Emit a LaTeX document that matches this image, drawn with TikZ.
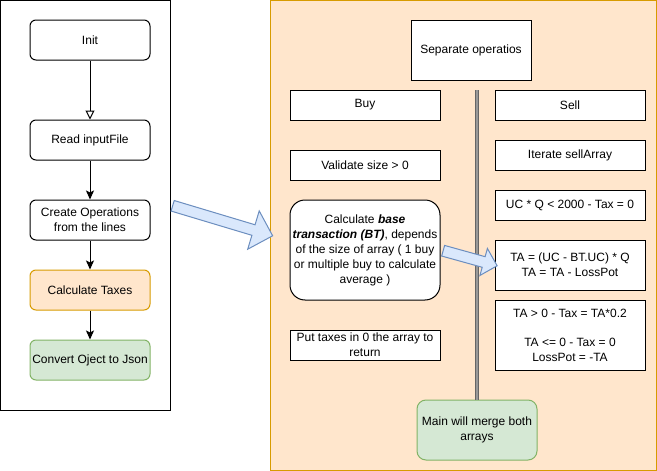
\documentclass[tikz,border=0pt]{standalone}
\usepackage{fontspec}
\setmainfont{Liberation Sans}
\usetikzlibrary{arrows.meta,shapes.arrows,calc}

\definecolor{orangefill}{HTML}{FFE6CC}
\definecolor{orangeline}{HTML}{D79B00}
\definecolor{greenfill}{HTML}{D5E8D4}
\definecolor{greenline}{HTML}{82B366}
\definecolor{bluefill}{HTML}{DAE8FC}
\definecolor{blueline}{HTML}{6C8EBF}

\tikzset{
  every node/.style={font=\fontsize{12}{15}\selectfont, align=center, inner sep=2pt},
  flowbox/.style={draw, fill=white, rounded corners=6pt, line width=1pt, minimum width=120pt, minimum height=40pt},
  opbox/.style={draw, fill=white, rectangle, line width=1pt, minimum width=150pt, minimum height=30pt},
  fatarrow/.style={single arrow, draw=blueline, fill=bluefill, line width=1pt, inner sep=5pt, outer sep=0pt, single arrow head indent=0pt},
  flow/.style={line width=1pt, -{Stealth[length=9pt, width=8pt, inset=2pt]}}
}

% block arrow from #1 to #2, head extend #3
\newcommand{\blockarrow}[3]{%
  \path let \p1=($(#2)-(#1)$), \n1={atan2(\y1,\x1)}, \n2={veclen(\x1,\y1)} in
    node[fatarrow, single arrow head extend=#3, minimum height=\n2, rotate=\n1] at ($(#1)!0.5!(#2)$) {};}

\begin{document}
\begin{tikzpicture}[x=1pt, y=-1pt]

            \useasboundingbox (0,0) rectangle (657,471);

            % main flow
            \draw[line width=1pt] (0.5,0.5) rectangle (170,410);

            \node[flowbox] (init) at (90,40) {Init};
            \node[flowbox] (read) at (90,140) {Read inputFile};
            \node[flowbox] (create) at (90,220) {Create Operations\\from the lines};
            \node[flowbox, fill=orangefill, draw=orangeline] (taxes) at (90,290) {Calculate Taxes};
            \node[flowbox, fill=greenfill, draw=greenline] (json) at (90,360) {Convert Oject to Json};

            \draw[line width=1pt, -{Triangle[open, length=9pt, width=9pt]}] (init) -- (read);
            \foreach \a/\b in {read/create, create/taxes, taxes/json}
              \draw[flow] (\a) -- (\b);

            % calculate taxes
            \draw[line width=1pt, fill=orangefill, draw=orangeline] (270.5,0.5) rectangle (656,470);

            \node[draw, fill=white, line width=1pt, minimum width=120pt, minimum height=60pt] (sep) at (471,50) {Separate operatios};

            \node[opbox] (buy) at (365,105) {Buy};
            \node[opbox] (validate) at (365,165) {Validate size > 0};
            \node[opbox, rounded corners=15pt, minimum height=100pt] (calc) at (365,250)
              {Calculate \textbf{\textit{base}}\\\textbf{\textit{transaction (BT)}}, depends\\of the size of array ( 1 buy\\or multiple buy to calculate\\average )};
            \node[opbox] (zero) at (365,345) {Put taxes in 0 the array to\\return};

            \node[opbox] (sell) at (570,105) {Sell};
            \node[opbox] (iterate) at (570,155) {Iterate sellArray};
            \node[opbox] (small) at (570,205) {UC * Q < 2000 - Tax = 0};
            \node[opbox, minimum height=50pt] (ta) at (570,265) {TA = (UC - BT.UC) * Q\\TA = TA - LossPot};
            \node[opbox, minimum height=70pt] (tax) at (570,335)
              {TA > 0 - Tax = TA*0.2\\[14pt]TA <= 0 - Tax = 0\\LossPot = -TA};

            \node[flowbox, fill=greenfill, draw=greenline, rounded corners=9pt, minimum height=60pt] (merge) at (477,430) {Main will merge both\\arrays};

            \coordinate (split) at (477,90);
            \draw[line width=1.2pt, draw=black!60, double=black!40, double distance=1.8pt] (split) -- (merge.north);

            % block arrows
            \coordinate (out) at (170,205);
            \coordinate (in) at (270,235);
            \blockarrow{out}{in}{14.5pt}
            \blockarrow{calc.east}{ta.west}{8.5pt}

\end{tikzpicture}
\end{document}
